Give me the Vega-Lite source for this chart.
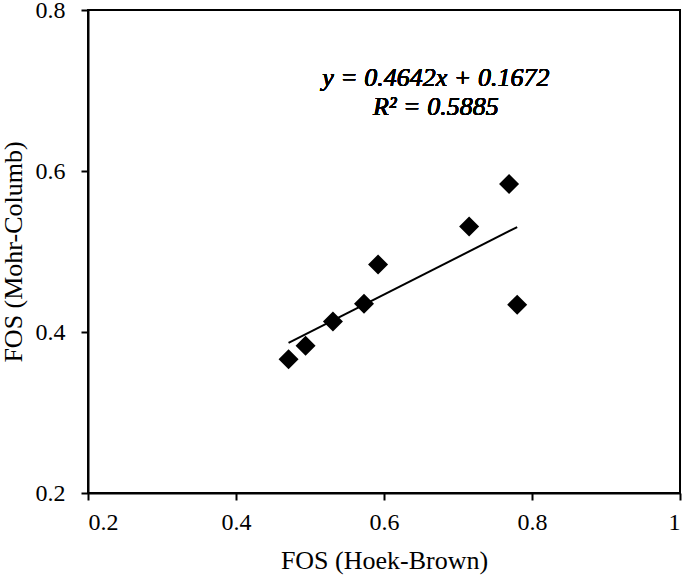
{
  "$schema": "https://vega.github.io/schema/vega-lite/v6.json",
  "width": 592,
  "height": 483,
  "autosize": {"type": "none"},
  "padding": {"left": 88, "top": 10, "right": 5, "bottom": 84},
  "background": "white",
  "config": {
    "font": "Liberation Serif",
    "view": {"stroke": "black", "strokeWidth": 2},
    "axis": {
      "grid": false,
      "domainColor": "black",
      "domainWidth": 2,
      "tickColor": "black",
      "tickWidth": 2,
      "tickSize": 7,
      "labelFont": "Liberation Serif",
      "labelFontSize": 24,
      "labelColor": "black",
      "titleFont": "Liberation Serif",
      "titleFontSize": 26,
      "titleFontWeight": "normal",
      "titleColor": "black"
    }
  },
  "data": {
    "values": [
      {"hb": 0.471, "mc": 0.366},
      {"hb": 0.494, "mc": 0.383},
      {"hb": 0.531, "mc": 0.413},
      {"hb": 0.573, "mc": 0.435},
      {"hb": 0.592, "mc": 0.484},
      {"hb": 0.715, "mc": 0.531},
      {"hb": 0.769, "mc": 0.584},
      {"hb": 0.780, "mc": 0.434}
    ]
  },
  "encoding": {
    "x": {
      "field": "hb", "type": "quantitative",
      "scale": {"domain": [0.2, 1], "nice": false, "zero": false},
      "axis": {"values": [0.2, 0.4, 0.6, 0.8, 1], "format": "~g", "title": "FOS (Hoek-Brown)", "labelPadding": 10, "titlePadding": 13}
    },
    "y": {
      "field": "mc", "type": "quantitative",
      "scale": {"domain": [0.2, 0.8], "nice": false, "zero": false},
      "axis": {"values": [0.2, 0.4, 0.6, 0.8], "format": "~g", "title": "FOS (Mohr-Columb)", "labelPadding": 16, "titlePadding": 9}
    }
  },
  "layer": [
    {
      "mark": {"type": "point", "shape": "diamond", "filled": true, "color": "black", "size": 400, "opacity": 1}
    },
    {
      "transform": [{"regression": "mc", "on": "hb"}],
      "mark": {"type": "line", "color": "black", "strokeWidth": 2}
    },
    {
      "mark": {
        "type": "text",
        "text": ["y = 0.4642x + 0.1672", "R² = 0.5885"],
        "font": "Liberation Serif",
        "fontStyle": "italic",
        "fontSize": 26,
        "lineHeight": 29,
        "align": "center",
        "baseline": "middle",
        "color": "black"
      },
      "encoding": {
        "x": {"datum": 0.67},
        "y": {"datum": 0.716}
      }
    }
  ]
}
